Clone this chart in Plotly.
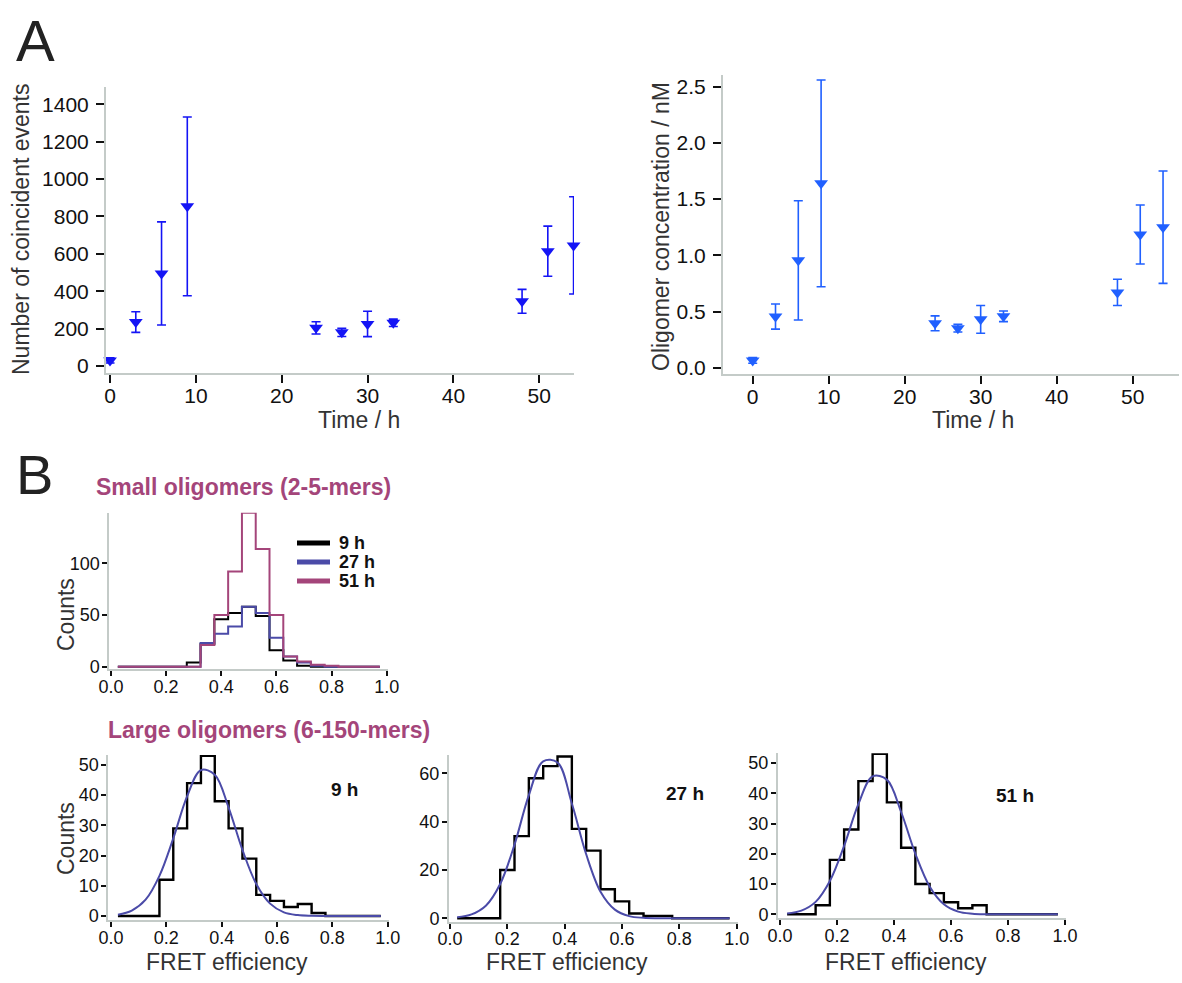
import plotly.graph_objects as go

# ---------------- data ----------------
time_h = [0, 3, 6, 9, 24, 27, 30, 33, 48, 51, 54]
coincident_events = [30, 235, 495, 854, 204, 180, 225, 231, 346, 614, 645]
coincident_err = [14, 55, 276, 478, 33, 22, 68, 20, 64, 134, 260]
oligomer_nM = [0.065, 0.455, 0.955, 1.64, 0.395, 0.352, 0.43, 0.457, 0.67, 1.185, 1.25]
oligomer_err = [0.025, 0.112, 0.53, 0.92, 0.066, 0.035, 0.123, 0.047, 0.117, 0.262, 0.5]

fret_bins = [0.05, 0.10, 0.15, 0.20, 0.25, 0.30, 0.35, 0.40, 0.45, 0.50,
             0.55, 0.60, 0.65, 0.70, 0.75, 0.80, 0.85, 0.90, 0.95]
bin_half = 0.025

small_9h = [0, 0, 0, 0, 0, 4, 22, 46, 52, 58, 49, 16, 6, 1, 0, 0, 0, 0, 0]
small_27h = [0, 0, 0, 0, 0, 0, 23, 32, 39, 58, 52, 28, 10, 4, 1, 0, 0, 0, 0]
small_51h = [0, 0, 0, 0, 0, 0, 21, 50, 92, 149, 114, 50, 10, 5, 2, 1, 0, 0, 0]

large_9h = [0, 0, 0, 12, 29, 44, 53, 38, 29, 19, 7, 5, 3, 4, 1, 0, 0, 0, 0]
large_27h = [0, 0, 0, 20, 34, 58, 63, 67, 37, 28, 12, 7, 2, 1, 1, 0, 0, 0, 0]
large_51h = [0, 0, 3, 18, 28, 44, 53, 37, 22, 10, 7, 4, 2, 3, 0, 0, 0, 0, 0]

fit_x = [0.025, 0.075, 0.125, 0.175, 0.225, 0.275, 0.325, 0.375, 0.425, 0.475,
         0.525, 0.575, 0.625, 0.675, 0.725, 0.775, 0.825, 0.875, 0.925, 0.975]
fit_9h = [0.45, 1.8, 5.4, 13.3, 25.7, 39.6, 48.3, 46.8, 35.9, 21.9,
          10.6, 4.1, 1.2, 0.3, 0.07, 0.01, 0, 0, 0, 0]
fit_27h = [0.4, 1.6, 5.2, 14.2, 30.5, 51.0, 65.0, 64.5, 47.5, 26.5,
           11.0, 3.6, 0.9, 0.2, 0.03, 0, 0, 0, 0, 0]
fit_51h = [0.28, 1.2, 4.1, 11.0, 22.6, 36.4, 45.6, 44.5, 33.8, 20.0,
           9.2, 3.3, 0.9, 0.2, 0.03, 0, 0, 0, 0, 0]

time_ticks = [0, 10, 20, 30, 40, 50]
events_ticks = [0, 200, 400, 600, 800, 1000, 1200, 1400]
conc_ticks = [0.0, 0.5, 1.0, 1.5, 2.0, 2.5]
fret_ticks = [0.0, 0.2, 0.4, 0.6, 0.8, 1.0]

# ---------------- style ----------------
W, H = 1182, 983
FONT = "Liberation Sans, Arial, sans-serif"
AXLINE = "#c4cbc8"
TXT = "#111111"
TITLE_TXT = "#333333"
BLUE_L = "#1414f5"
BLUE_R = "#2060ff"
C9 = "#000000"
C27 = "#4b4ba8"
C51 = "#a4457a"
FIT = "#4b4ba8"


def fx(p):
    return p / W


def fy(p):
    return 1 - p / H


def step_xy(counts):
    xs = [c - bin_half for c in fret_bins] + [fret_bins[-1] + bin_half]
    ys = list(counts) + [counts[-1]]
    return xs, ys


def axis(domain, rng, tickvals, size, ticklen, anchor, fmt=None, standoff=0):
    d = dict(domain=domain, range=rng, tickvals=tickvals, showline=True,
             linecolor=AXLINE, linewidth=2, ticks="outside", tickcolor=TXT,
             tickwidth=1.5, ticklen=ticklen, showgrid=False, zeroline=False,
             tickfont=dict(family=FONT, size=size, color=TXT), anchor=anchor,
             fixedrange=True, automargin=False, ticklabelstandoff=standoff)
    if fmt:
        d["tickformat"] = fmt
    return d


fig = go.Figure()

# Panel A left
fig.add_trace(go.Scatter(
    x=time_h, y=coincident_events, mode="markers", xaxis="x", yaxis="y",
    marker=dict(symbol="triangle-down", size=12, color=BLUE_L),
    error_y=dict(type="data", array=coincident_err, visible=True,
                 thickness=1.6, width=4.5, color=BLUE_L),
    cliponaxis=False, showlegend=False))

# Panel A right
fig.add_trace(go.Scatter(
    x=time_h, y=oligomer_nM, mode="markers", xaxis="x2", yaxis="y2",
    marker=dict(symbol="triangle-down", size=12, color=BLUE_R),
    error_y=dict(type="data", array=oligomer_err, visible=True,
                 thickness=1.6, width=4.5, color=BLUE_R),
    cliponaxis=False, showlegend=False))

# Panel B small oligomers
for counts, col in [(small_9h, C9), (small_27h, C27), (small_51h, C51)]:
    xs, ys = step_xy(counts)
    fig.add_trace(go.Scatter(x=xs, y=ys, mode="lines", line=dict(shape="hv", color=col, width=2),
                             xaxis="x3", yaxis="y3", showlegend=False, cliponaxis=False))

# Panel B large oligomers
for counts, fit, ax in [(large_9h, fit_9h, "4"), (large_27h, fit_27h, "5"), (large_51h, fit_51h, "6")]:
    xs, ys = step_xy(counts)
    fig.add_trace(go.Scatter(x=xs, y=ys, mode="lines", line=dict(shape="hv", color=C9, width=2.4),
                             xaxis="x" + ax, yaxis="y" + ax, showlegend=False, cliponaxis=False))
    fig.add_trace(go.Scatter(x=fit_x, y=fit, mode="lines",
                             line=dict(shape="spline", smoothing=1.0, color=FIT, width=2),
                             xaxis="x" + ax, yaxis="y" + ax, showlegend=False, cliponaxis=False))

XS = -5   # x tick label standoff (pull labels up toward the axis)
BF = 18   # tick font size in panel B
layout = dict(
    width=W, height=H, margin=dict(l=0, r=0, t=0, b=0, autoexpand=False),
    paper_bgcolor="white", plot_bgcolor="white", showlegend=False,
    xaxis=axis([fx(106), fx(574)], [-0.47, 54.05], time_ticks, 21, 8, "y", standoff=XS),
    yaxis=axis([fy(373), fy(86.7)], [-37.4, 1494], events_ticks, 21, 8, "x", standoff=3),
    xaxis2=axis([fx(723), fx(1179)], [-3.91, 56.1], time_ticks, 21, 8, "y2", standoff=XS),
    yaxis2=axis([fy(374), fy(75)], [-0.056, 2.604], conc_ticks, 21, 8, "x2", ".1f", standoff=3),
    xaxis3=axis([fx(109.3), fx(388)], [-0.006, 1.0047], fret_ticks, BF, 5, "y3", ".1f", standoff=XS),
    yaxis3=axis([fy(669), fy(512.7)], [-2.2, 149], [0, 50, 100], BF, 5, "x3", standoff=-1),
    xaxis4=axis([fx(108.3), fx(389)], [-0.0098, 1.0047], fret_ticks, BF, 5, "y4", ".1f", standoff=XS),
    yaxis4=axis([fy(920), fy(755)], [-1.32, 53.3], [0, 10, 20, 30, 40, 50], BF, 5, "x4", standoff=-1),
    xaxis5=axis([fx(449), fx(738)], [-0.0035, 1.0045], fret_ticks, BF, 5, "y5", ".1f", standoff=XS),
    yaxis5=axis([fy(921.7), fy(755)], [-1.41, 67.6], [0, 20, 40, 60], BF, 5, "x5", standoff=-1),
    xaxis6=axis([fx(778), fx(1066)], [-0.007, 1.0035], fret_ticks, BF, 5, "y6", ".1f", standoff=XS),
    yaxis6=axis([fy(918.3), fy(753.3)], [-1.32, 53.2], [0, 10, 20, 30, 40, 50], BF, 5, "x6", standoff=-1),
)
fig.update_layout(**layout)


def ann(text, x, y, size, color=TITLE_TXT, bold=False, angle=0, xanchor="center"):
    if bold:
        text = "<b>" + text + "</b>"
    fig.add_annotation(text=text, x=fx(x), y=fy(y), xref="paper", yref="paper",
                       showarrow=False, xanchor=xanchor, yanchor="middle", textangle=angle,
                       font=dict(family=FONT, size=size, color=color), borderpad=0)


ann("A", 35, 40, 58, color="#222222")
ann("B", 34, 474, 56, color="#222222")
ann("Number of coincident events", 21, 229, 23, angle=-90)
ann("Time / h", 359, 420, 23)
ann("Oligomer concentration / nM", 661, 227, 23, angle=-90)
ann("Time / h", 973, 420, 23)
ann("Small oligomers (2-5-mers)", 243, 487, 23, color=C51, bold=True)
ann("Large oligomers (6-150-mers)", 269, 730, 23, color=C51, bold=True)
ann("Counts", 66, 615, 23, angle=-90)
ann("Counts", 66, 839, 23, angle=-90)
ann("FRET efficiency", 227, 962, 23)
ann("FRET efficiency", 567, 962, 23)
ann("FRET efficiency", 906, 962, 23)
ann("9 h", 344, 789, 19, color=TXT, bold=True)
ann("27 h", 685, 793, 19, color=TXT, bold=True)
ann("51 h", 1015, 795, 19, color=TXT, bold=True)

# legend for small oligomers
for label, col, ypix in [("9 h", C9, 543), ("27 h", C27, 562), ("51 h", C51, 581)]:
    fig.add_shape(type="line", xref="paper", yref="paper", x0=fx(297), x1=fx(330),
                  y0=fy(ypix), y1=fy(ypix), line=dict(color=col, width=5))
    ann(label, 338, ypix, 18, color=TXT, bold=True, xanchor="left")

fig.write_html("out.html", config={"displayModeBar": False},
               post_script="document.body.style.margin='0';")
